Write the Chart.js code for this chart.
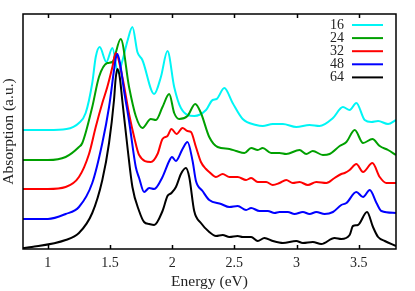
<!DOCTYPE html>
<html>
<head>
<meta charset="utf-8">
<script src="https://cdn.jsdelivr.net/npm/chart.js@4"></script>
<style>
  html, body { margin: 0; padding: 0; background: #fff; }
</style>
</head>
<body>
<canvas id="chart" width="415" height="291"></canvas>
<script>
// Absorption spectra, stacked with vertical offsets (arb. units)

const e16 = [0.8, 1.0, 1.15, 1.25, 1.304, 1.357, 1.385, 1.417, 1.47, 1.519, 1.565, 1.599, 1.64, 1.68, 1.72, 1.76, 1.855, 1.909, 1.962, 2.016, 2.07, 2.177, 2.272, 2.325, 2.357, 2.419, 2.486, 2.567, 2.675, 2.728, 2.809, 2.89, 2.998, 3.105, 3.185, 3.293, 3.373, 3.427, 3.481, 3.548, 3.602, 3.656, 3.736, 3.8];
const a16 = [119, 119, 120, 126, 136, 166, 192, 202, 187, 201, 176, 188, 208, 222, 197, 189, 155, 172, 198, 162, 141, 133, 139, 149, 150, 161, 146, 130, 124, 123, 125, 125, 122, 124, 123, 131, 142, 139, 146, 129, 127, 128, 125, 129];

const e24 = [0.8, 1.0, 1.143, 1.25, 1.277, 1.357, 1.411, 1.478, 1.519, 1.586, 1.653, 1.707, 1.76, 1.828, 1.869, 1.922, 1.976, 2.016, 2.056, 2.123, 2.185, 2.231, 2.298, 2.365, 2.46, 2.514, 2.581, 2.635, 2.688, 2.728, 2.796, 2.863, 2.917, 3.024, 3.078, 3.131, 3.212, 3.266, 3.347, 3.401, 3.468, 3.535, 3.61, 3.669, 3.736, 3.8];
const a24 = [89, 89, 92, 102, 106, 142, 172, 186, 187, 210, 162, 133, 121, 130, 129, 142, 155, 136, 130, 133, 145, 136, 112, 102, 100, 98, 96, 101, 99, 101, 96, 96, 95, 99, 95, 98, 94, 95, 103, 107, 119, 106, 110, 103, 99, 94];

const e32 = [0.8, 1.0, 1.143, 1.25, 1.331, 1.385, 1.438, 1.478, 1.519, 1.545, 1.599, 1.653, 1.694, 1.734, 1.828, 1.882, 1.922, 1.962, 1.994, 2.035, 2.083, 2.123, 2.151, 2.191, 2.231, 2.272, 2.298, 2.352, 2.406, 2.46, 2.527, 2.594, 2.635, 2.688, 2.756, 2.809, 2.863, 2.917, 2.97, 3.024, 3.091, 3.159, 3.24, 3.306, 3.36, 3.387, 3.427, 3.481, 3.535, 3.61, 3.669, 3.723, 3.8];
const a32 = [60, 60, 62, 72, 95, 122, 146, 162, 182, 196, 172, 135, 112, 94, 87, 95, 110, 113, 120, 115, 121, 118, 117, 102, 87, 80, 77, 72, 75, 72, 72, 69, 71, 67, 67, 64, 66, 69, 66, 67, 64, 67, 66, 71, 75, 76, 79, 85, 77, 86, 72, 66, 66];

const e48 = [0.8, 1.0, 1.143, 1.25, 1.357, 1.438, 1.492, 1.532, 1.545, 1.559, 1.58, 1.613, 1.653, 1.707, 1.734, 1.774, 1.815, 1.855, 1.922, 1.976, 1.998, 2.03, 2.083, 2.123, 2.164, 2.191, 2.244, 2.298, 2.393, 2.46, 2.527, 2.594, 2.635, 2.702, 2.769, 2.823, 2.863, 2.93, 2.984, 3.051, 3.105, 3.159, 3.226, 3.293, 3.36, 3.401, 3.481, 3.535, 3.589, 3.643, 3.683, 3.8];
const a48 = [30, 30, 35, 42, 66, 106, 142, 179, 190, 195, 186, 158, 128, 82, 71, 57, 61, 60, 72, 88, 92, 88, 100, 107, 88, 68, 58, 49, 45, 42, 43, 39, 41, 38, 38, 36, 37, 37, 35, 37, 35, 37, 35, 37, 44, 46, 57, 52, 59, 46, 38, 36];

const e64 = [0.8, 0.871, 1.143, 1.25, 1.357, 1.438, 1.492, 1.532, 1.545, 1.559, 1.578, 1.599, 1.64, 1.68, 1.734, 1.774, 1.815, 1.855, 1.922, 1.962, 1.994, 2.03, 2.07, 2.11, 2.137, 2.177, 2.231, 2.298, 2.352, 2.406, 2.46, 2.527, 2.567, 2.635, 2.688, 2.742, 2.809, 2.89, 2.998, 3.051, 3.131, 3.199, 3.306, 3.36, 3.427, 3.454, 3.494, 3.567, 3.615, 3.656, 3.71, 3.8];
const a64 = [1, 2, 9, 16, 36, 69, 106, 149, 170, 180, 172, 148, 102, 62, 38, 27, 25, 24, 38, 53, 56, 62, 75, 81, 72, 38, 26, 17, 13, 14, 12, 13, 12, 12, 8, 11, 8, 6, 8, 6, 7, 5, 11, 10, 14, 23, 24, 37, 22, 12, 8, 3];

const seriesLabels = ['16', '24', '32', '48', '64'];
const xTicks = [1, 1.5, 2, 2.5, 3, 3.5];

const colors = ['#00f5f5', '#00a000', '#ff0000', '#0000ff', '#000000'];
const serif = "'Liberation Serif', 'DejaVu Serif', serif";
const textColor = '#222';

function pts(e, a) {
  return e.map((x, i) => ({ x, y: a[i] }));
}

const series = [pts(e16, a16), pts(e24, a24), pts(e32, a32), pts(e48, a48), pts(e64, a64)];

// frame, inward tick marks and the key (text left, line right)
const framePlugin = {
  id: 'frame',
  afterDatasetsDraw(chart) {
    const { ctx, chartArea: a, scales: { x } } = chart;
    ctx.save();
    ctx.strokeStyle = '#000';
    ctx.lineWidth = 1.5;
    ctx.beginPath();
    x.ticks.forEach(t => {
      const px = Math.round(x.getPixelForValue(t.value)) + 0.5;
      ctx.moveTo(px, a.bottom); ctx.lineTo(px, a.bottom - 4);
      ctx.moveTo(px, a.top); ctx.lineTo(px, a.top + 4);
    });
    ctx.stroke();
    ctx.strokeRect(a.left, a.top, a.right - a.left, a.bottom - a.top);

    ctx.font = '14px ' + serif;
    ctx.textAlign = 'right';
    ctx.textBaseline = 'middle';
    chart.data.datasets.forEach((ds, i) => {
      const y = a.top + 11 + i * 13.1;
      ctx.fillStyle = textColor;
      ctx.fillText(ds.label, a.right - 52, y);
      ctx.strokeStyle = ds.borderColor;
      ctx.lineWidth = 2;
      ctx.beginPath();
      ctx.moveTo(a.right - 44, y);
      ctx.lineTo(a.right - 13, y);
      ctx.stroke();
    });
    ctx.restore();
  }
};

new Chart(document.getElementById('chart'), {
  type: 'line',
  data: {
    datasets: series.map((d, i) => ({
      label: seriesLabels[i],
      data: d,
      borderColor: colors[i],
      backgroundColor: colors[i],
      borderWidth: 2,
      pointRadius: 0,
      fill: false,
      cubicInterpolationMode: 'monotone',
      order: 4 - i,
    }))
  },
  options: {
    responsive: false,
    animation: false,
    layout: { padding: { top: 14, right: 19, left: 0, bottom: 0 } },
    plugins: {
      legend: { display: false },
      tooltip: { enabled: false },
    },
    scales: {
      x: {
        type: 'linear',
        min: 0.8,
        max: 3.8,
        afterBuildTicks: s => { s.ticks = xTicks.map(v => ({ value: v })); },
        afterFit: s => { s.height = 42; },
        ticks: {
          font: { family: serif, size: 14 },
          color: textColor,
          padding: 6,
          maxRotation: 0,
          callback: v => String(v),
        },
        grid: { display: false, drawTicks: false },
        border: { display: false },
        title: {
          display: true,
          text: 'Energy (eV)',
          color: textColor,
          font: { family: serif, size: 15.5 },
          padding: { top: 0, bottom: 0 },
        },
      },
      y: {
        min: 0,
        max: 235,
        afterFit: s => { s.width = 23; },
        ticks: { display: false },
        grid: { display: false, drawTicks: false },
        border: { display: false },
        title: {
          display: true,
          text: 'Absorption (a.u.)',
          color: textColor,
          font: { family: serif, size: 15.5 },
          padding: { top: 0, bottom: 0 },
        },
      },
    },
  },
  plugins: [framePlugin],
});
</script>
</body>
</html>
